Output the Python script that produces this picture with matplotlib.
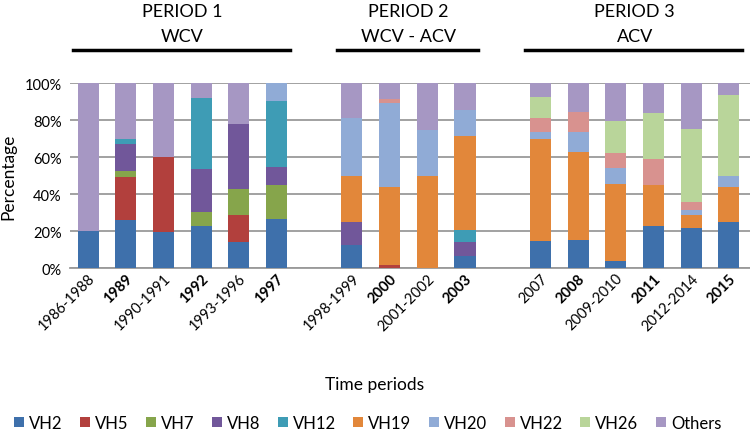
import numpy as np
import matplotlib
matplotlib.use("Agg")
import matplotlib.pyplot as plt
import matplotlib.transforms as mtransforms
import matplotlib.lines as mlines

plt.rcParams['font.family'] = ['Lato', 'DejaVu Sans']

periods = ['PERIOD 1', 'PERIOD 2', 'PERIOD 3']
subtitles = ['WCV', 'WCV - ACV', 'ACV']
period_labels = [
    ['1986-1988', '1989', '1990-1991', '1992', '1993-1996', '1997'],
    ['1998-1999', '2000', '2001-2002', '2003'],
    ['2007', '2008', '2009-2010', '2011', '2012-2014', '2015'],
]
bold_labels = ['1989', '1992', '1997', '2000', '2003', '2008', '2011', '2015']

series_names = ['VH2', 'VH5', 'VH7', 'VH8', 'VH12', 'VH19', 'VH20', 'VH22', 'VH26', 'Others']
vh2 = [20, 26.2, 19.7, 22.9, 14.0, 26.7, 12.4, 0, 0, 6.8, 14.5, 15.4, 3.6, 22.6, 21.9, 24.9]
vh5 = [0, 23.3, 40.2, 0, 14.5, 0, 0, 1.8, 0, 0, 0, 0, 0, 0, 0, 0]
vh7 = [0, 3.0, 0, 7.2, 14.3, 18.3, 0, 0, 0, 0, 0, 0, 0, 0, 0, 0]
vh8 = [0, 14.9, 0, 23.5, 35.3, 9.5, 12.5, 0, 0, 7.2, 0, 0, 0, 0, 0, 0]
vh12 = [0, 2.7, 0, 38.3, 0, 35.8, 0, 0, 0, 6.8, 0, 0, 0, 0, 0, 0]
vh19 = [0, 0, 0, 0, 0, 0, 24.9, 41.9, 49.8, 50.7, 55.6, 47.5, 41.9, 22.4, 7.0, 18.8]
vh20 = [0, 0, 0, 0, 0, 9.7, 31.6, 45.7, 24.8, 14.3, 3.6, 10.8, 8.8, 0, 2.3, 6.1]
vh22 = [0, 0, 0, 0, 0, 0, 0, 2.2, 0, 0, 7.5, 10.7, 8.1, 14.0, 4.3, 0]
vh26 = [0, 0, 0, 0, 0, 0, 0, 0, 0, 0, 11.3, 0, 17.0, 24.9, 39.6, 43.6]
others = [80, 29.9, 40.1, 8.1, 21.9, 0, 18.6, 8.4, 25.4, 14.2, 7.5, 15.6, 20.6, 16.1, 24.9, 6.6]

colors = ['#3e70ab', '#b2403d', '#86a54b', '#71579a', '#3e9cb5',
          '#e2873a', '#90abd6', '#d8928f', '#b9d59a', '#a697c3']

# bar positions: one empty slot between periods
pos = []
groups = []
x = 0
for labs in period_labels:
    g = list(range(x, x + len(labs)))
    pos += g
    groups.append(g)
    x += len(labs) + 1
pos = np.array(pos)
labels = sum(period_labels, [])

fig = plt.figure(figsize=(7.5, 4.39), dpi=100)
ax = fig.add_axes([0.0933, 0.387, 0.9067, 0.421])

data = [vh2, vh5, vh7, vh8, vh12, vh19, vh20, vh22, vh26, others]
bottom = np.zeros(len(pos))
for name, vals, c in zip(series_names, data, colors):
    vals = np.array(vals, dtype=float)
    ax.bar(pos, vals, 0.56, bottom=bottom, color=c, label=name, zorder=3)
    bottom += vals

ax.set_xlim(-0.48, 17.56)
ax.set_ylim(0, 100)
ax.set_yticks(np.arange(0, 101, 20))
ax.set_yticklabels([f'{v}%' for v in range(0, 101, 20)], fontsize=10.5)
ax.yaxis.grid(True, color='#9a9a9a', lw=1.3, zorder=0)
for s in ['top', 'right', 'left']:
    ax.spines[s].set_visible(False)
ax.spines['bottom'].set_color('#9a9a9a')
ax.spines['bottom'].set_linewidth(1.3)
ax.tick_params(axis='y', length=0, pad=6)
ax.tick_params(axis='x', length=0, pad=2)

ax.set_xticks(pos)
ax.set_xticklabels(labels, rotation=45, ha='right', rotation_mode='anchor', fontsize=10.5)
for t in ax.get_xticklabels():
    if t.get_text() in bold_labels:
        t.set_fontweight('bold')

ax.set_ylabel('Percentage', fontsize=12.5, labelpad=6)
fig.text(0.5, 1 - 385 / 439, 'Time periods', ha='center', va='center', fontsize=12.5)

# header above each period
trans = mtransforms.blended_transform_factory(ax.transData, fig.transFigure)
for p, sub, g in zip(periods, subtitles, groups):
    c = (g[0] + g[-1]) / 2
    fig.text(c, 1 - 12 / 439, p, transform=trans, ha='center', va='center', fontsize=13)
    fig.text(c, 1 - 37 / 439, sub, transform=trans, ha='center', va='center', fontsize=13)
    fig.add_artist(mlines.Line2D([g[0] - 0.4, g[-1] + 0.35], [1 - 51 / 439] * 2,
                                 transform=trans, color='black', lw=2.5))

fig.legend(loc='center', bbox_to_anchor=(0.49, 1 - 424 / 439),
           ncol=10, frameon=False, fontsize=12,
           handlelength=0.6, handleheight=0.6, handletextpad=0.3, columnspacing=1.05)

plt.savefig('out.png', dpi=100)
